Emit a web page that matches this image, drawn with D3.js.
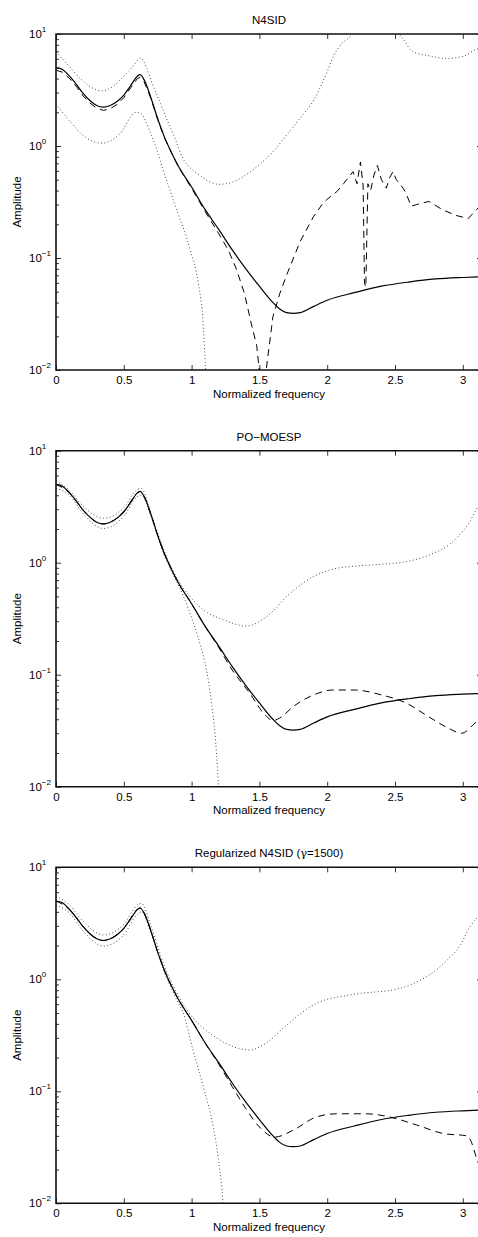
<!DOCTYPE html>
<html>
<head>
<meta charset="utf-8">
<script src="https://cdn.jsdelivr.net/npm/d3@7"></script>
<style>
  body { margin: 0; background: #fff; }
  svg { display: block; font-family: "Liberation Sans", Arial, Helvetica, sans-serif; }
  .tick-label { font-size: 11.5px; fill: #000; }
  .axis-title { font-size: 11.5px; fill: #000; }
</style>
</head>
<body>
<script>
// true system (solid), same in every panel
const trueFreq = [0, 0.05, 0.1, 0.15, 0.2, 0.25, 0.3, 0.35, 0.4, 0.45, 0.5, 0.55, 0.6, 0.62, 0.65, 0.7, 0.75, 0.8, 0.85, 0.9, 1.0, 1.1, 1.2, 1.3, 1.4, 1.5, 1.6, 1.65, 1.7, 1.75, 1.8, 1.9, 2.0, 2.2, 2.4, 2.6, 2.8, 3.0, 3.1416];
const trueAmp = [5.0, 4.8, 4.2, 3.55, 2.95, 2.55, 2.3, 2.22, 2.3, 2.5, 2.85, 3.45, 4.2, 4.33, 3.9, 2.7, 1.75, 1.2, 0.88, 0.67, 0.43, 0.27, 0.18, 0.118, 0.08, 0.056, 0.04, 0.035, 0.0325, 0.032, 0.0325, 0.037, 0.042, 0.049, 0.056, 0.061, 0.065, 0.067, 0.068];

// N4SID estimate (dashed) and bounds (dotted)
const n4sidFreq = [0, 0.05, 0.1, 0.15, 0.2, 0.25, 0.3, 0.35, 0.4, 0.45, 0.5, 0.55, 0.6, 0.62, 0.65, 0.7, 0.75, 0.8, 0.9, 1.0, 1.1, 1.2, 1.27, 1.33, 1.39, 1.44, 1.48, 1.5, 1.52, 1.55, 1.6, 1.65, 1.7, 1.8, 1.9, 1.97, 2.03, 2.07, 2.12, 2.19, 2.22, 2.245, 2.265, 2.275, 2.285, 2.3, 2.32, 2.345, 2.37, 2.4, 2.436, 2.46, 2.485, 2.51, 2.535, 2.56, 2.58, 2.62, 2.66, 2.75, 2.85, 2.95, 3.04, 3.1, 3.1416];
const n4sidAmp = [4.75, 4.55, 4.0, 3.4, 2.8, 2.42, 2.18, 2.08, 2.15, 2.35, 2.7, 3.3, 4.0, 4.1, 3.75, 2.65, 1.72, 1.18, 0.66, 0.42, 0.26, 0.165, 0.118, 0.08, 0.048, 0.026, 0.0165, 0.0098, 0.005, 0.01, 0.03, 0.048, 0.07, 0.14, 0.235, 0.31, 0.36, 0.39, 0.46, 0.59, 0.46, 0.72, 0.44, 0.06, 0.055, 0.46, 0.4, 0.55, 0.67, 0.5, 0.42, 0.52, 0.59, 0.5, 0.46, 0.42, 0.38, 0.29, 0.3, 0.32, 0.27, 0.24, 0.225, 0.27, 0.3];
const n4sidUpFreq = [0, 0.07, 0.17, 0.25, 0.34, 0.42, 0.49, 0.56, 0.626, 0.67, 0.71, 0.77, 0.82, 0.88, 0.93, 1.0, 1.06, 1.13, 1.21, 1.29, 1.36, 1.48, 1.6, 1.7, 1.8, 1.9, 2.0, 2.05, 2.1, 2.17, 2.25, 2.4, 2.5, 2.56, 2.63, 2.75, 2.88, 3.0, 3.1, 3.1416];
const n4sidUpAmp = [6.9, 5.6, 4.1, 3.4, 3.1, 3.4, 4.1, 5.0, 6.1, 4.9, 3.6, 2.4, 1.7, 1.15, 0.8, 0.62, 0.55, 0.48, 0.455, 0.47, 0.515, 0.65, 0.89, 1.25, 1.77, 2.57, 4.6, 6.5, 8.0, 9.5, 12, 15, 11, 9.0, 6.95, 6.4, 6.05, 6.3, 7.3, 7.5];
const n4sidLoFreq = [0, 0.1, 0.22, 0.34, 0.47, 0.59, 0.626, 0.69, 0.74, 0.79, 0.89, 0.99, 1.05, 1.085, 1.1, 1.11];
const n4sidLoAmp = [2.37, 1.68, 1.19, 1.06, 1.28, 2.0, 1.95, 1.37, 0.95, 0.61, 0.27, 0.118, 0.059, 0.026, 0.012, 0.006];

// PO-MOESP
const moespFreq = [0, 0.1, 0.2, 0.3, 0.35, 0.4, 0.5, 0.6, 0.62, 0.65, 0.7, 0.75, 0.8, 0.9, 1.0, 1.1, 1.2, 1.3, 1.43, 1.54, 1.6, 1.65, 1.75, 1.9, 2.04, 2.2, 2.4, 2.58, 2.75, 2.9, 2.99, 3.09, 3.1416];
const moespAmp = [5.0, 4.2, 2.95, 2.3, 2.22, 2.3, 2.85, 4.2, 4.33, 3.9, 2.7, 1.75, 1.2, 0.67, 0.43, 0.27, 0.175, 0.11, 0.068, 0.044, 0.039, 0.041, 0.052, 0.066, 0.073, 0.073, 0.066, 0.056, 0.042, 0.033, 0.030, 0.037, 0.042];
const moespUpFreq = [0, 0.1, 0.2, 0.35, 0.5, 0.6, 0.63, 0.7, 0.8, 0.9, 1.0, 1.086, 1.233, 1.405, 1.553, 1.724, 1.896, 2.068, 2.2, 2.41, 2.6, 2.78, 2.9, 2.98, 3.05, 3.1, 3.1416];
const moespUpAmp = [5.4, 4.4, 3.2, 2.49, 3.1, 4.5, 4.6, 2.75, 1.25, 0.7, 0.48, 0.38, 0.31, 0.272, 0.33, 0.53, 0.75, 0.89, 0.93, 0.97, 1.03, 1.21, 1.45, 1.8, 2.3, 3.0, 3.6];
const moespLoFreq = [0, 0.1, 0.2, 0.35, 0.5, 0.6, 0.63, 0.7, 0.8, 0.84, 0.94, 0.99, 1.061, 1.11, 1.147, 1.172, 1.196, 1.205];
const moespLoAmp = [4.6, 4.0, 2.75, 2.02, 2.6, 3.9, 4.0, 2.6, 1.15, 0.9, 0.5, 0.35, 0.19, 0.11, 0.056, 0.030, 0.0115, 0.007];

// Regularized N4SID
const regFreq = [0, 0.1, 0.2, 0.3, 0.35, 0.4, 0.5, 0.6, 0.62, 0.65, 0.7, 0.75, 0.8, 0.9, 1.0, 1.1, 1.2, 1.3, 1.4, 1.5, 1.614, 1.75, 1.92, 2.07, 2.29, 2.46, 2.66, 2.855, 3.03, 3.06, 3.09, 3.11, 3.1416];
const regAmp = [5.0, 4.2, 2.95, 2.3, 2.22, 2.3, 2.85, 4.2, 4.33, 3.9, 2.7, 1.75, 1.2, 0.67, 0.43, 0.27, 0.175, 0.11, 0.07, 0.048, 0.039, 0.045, 0.059, 0.063, 0.063, 0.059, 0.050, 0.042, 0.040, 0.036, 0.028, 0.0235, 0.02];
const regUpFreq = [0, 0.1, 0.2, 0.35, 0.5, 0.6, 0.63, 0.7, 0.8, 0.9, 0.938, 1.0, 1.184, 1.43, 1.55, 1.675, 1.8, 1.921, 2.167, 2.535, 2.7, 2.8, 2.9, 2.98, 3.05, 3.11, 3.1416];
const regUpAmp = [5.5, 4.6, 3.3, 2.49, 3.1, 4.6, 4.77, 3.0, 1.3, 0.72, 0.6, 0.47, 0.30, 0.234, 0.27, 0.365, 0.49, 0.61, 0.725, 0.83, 1.0, 1.2, 1.55, 2.0, 2.9, 3.6, 4.0];
const regLoFreq = [0, 0.1, 0.2, 0.35, 0.5, 0.6, 0.63, 0.7, 0.8, 0.9, 0.938, 1.01, 1.086, 1.16, 1.196, 1.228, 1.24];
const regLoAmp = [4.6, 3.9, 2.7, 1.98, 2.5, 3.8, 4.0, 2.6, 1.15, 0.62, 0.5, 0.234, 0.11, 0.048, 0.026, 0.0115, 0.007];

const xTicks = [0, 0.5, 1, 1.5, 2, 2.5, 3];
const yMajor = [0.01, 0.1, 1, 10];
const yExponents = ["\u22122", "\u22121", "0", "1"];

const panels = [
  { title: "N4SID", top: 34, est: [n4sidFreq, n4sidAmp], up: [n4sidUpFreq, n4sidUpAmp], lo: [n4sidLoFreq, n4sidLoAmp] },
  { title: "PO\u2212MOESP", top: 450.7, est: [moespFreq, moespAmp], up: [moespUpFreq, moespUpAmp], lo: [moespLoFreq, moespLoAmp] },
  { title: "reg", top: 867.3, est: [regFreq, regAmp], up: [regUpFreq, regUpAmp], lo: [regLoFreq, regLoAmp] }
];

const width = 478, height = 1237;
const left = 56, right = 482, plotH = 336;

const svg = d3.select("body").append("svg")
  .attr("width", width)
  .attr("height", height);

const x = d3.scaleLinear().domain([0, Math.PI]).range([left, right]);

const zip = (f, a) => f.map((v, i) => [v, a[i]]);

const yMinor = [];
[0.01, 0.1, 1].forEach((d) => {
  for (let k = 2; k <= 9; k++) yMinor.push(d * k);
});

panels.forEach((p, idx) => {
  const bottom = p.top + plotH;
  const y = d3.scaleLog().domain([0.01, 10]).range([bottom, p.top]);
  const g = svg.append("g");

  const clipId = `clip-${idx}`;
  svg.append("clipPath").attr("id", clipId)
    .append("rect")
      .attr("x", left)
      .attr("y", p.top)
      .attr("width", right - left)
      .attr("height", plotH);

  const line = d3.line()
    .x((d) => x(d[0]))
    .y((d) => y(Math.max(d[1], 1e-4)))
    .curve(d3.curveMonotoneX);

  const curves = g.append("g").attr("clip-path", `url(#${clipId})`);

  // bounds
  [p.up, p.lo].forEach((c) => {
    curves.append("path")
      .datum(zip(c[0], c[1]))
      .attr("d", line)
      .attr("fill", "none")
      .attr("stroke", "#222")
      .attr("stroke-width", 0.9)
      .attr("stroke-dasharray", "0.9,2.5");
  });

  // estimate
  curves.append("path")
    .datum(zip(p.est[0], p.est[1]))
    .attr("d", idx === 0 ? line.curve(d3.curveLinear) : line)
    .attr("fill", "none")
    .attr("stroke", "#000")
    .attr("stroke-width", 1)
    .attr("stroke-dasharray", "7,5");
  line.curve(d3.curveMonotoneX);

  // true system
  curves.append("path")
    .datum(zip(trueFreq, trueAmp))
    .attr("d", line)
    .attr("fill", "none")
    .attr("stroke", "#000")
    .attr("stroke-width", 1.2);

  // x axis, bottom + top, ticks inward
  const xAxisB = g.append("g")
    .attr("transform", `translate(0,${bottom})`)
    .call(d3.axisBottom(x).tickValues(xTicks).tickSize(-5).tickPadding(6).tickFormat((d) => d));
  const xAxisT = g.append("g")
    .attr("transform", `translate(0,${p.top})`)
    .call(d3.axisTop(x).tickValues(xTicks).tickSize(-5).tickFormat(""));

  // y axis, left + right
  const yAxisL = g.append("g")
    .attr("transform", `translate(${left},0)`)
    .call(d3.axisLeft(y).tickValues(yMajor).tickSize(-5).tickFormat(""));
  const yAxisLm = g.append("g")
    .attr("transform", `translate(${left},0)`)
    .call(d3.axisLeft(y).tickValues(yMinor).tickSize(-3).tickFormat(""));
  const yAxisR = g.append("g")
    .attr("transform", `translate(${right},0)`)
    .call(d3.axisRight(y).tickValues(yMajor).tickSize(-5).tickFormat(""));

  [xAxisB, xAxisT, yAxisL, yAxisLm, yAxisR].forEach((a) => {
    a.select(".domain").remove();
    a.selectAll("line").attr("stroke", "#000").attr("stroke-width", 0.8);
  });
  xAxisB.selectAll("text")
    .attr("class", "tick-label")
    .attr("font-size", null)
    .attr("font-family", null);

  // y labels as 10 with superscript
  yMajor.forEach((v, i) => {
    const t = g.append("text")
      .attr("class", "tick-label")
      .attr("x", 29)
      .attr("y", y(v) + 4);
    t.append("tspan").text("10");
    t.append("tspan")
      .attr("dy", -6)
      .attr("font-size", "8px")
      .text(yExponents[i]);
  });

  // box
  g.append("path")
    .attr("d", `M${right},${p.top}H${left}V${bottom}H${right}`)
    .attr("fill", "none")
    .attr("stroke", "#111")
    .attr("stroke-width", 1.6);

  // titles
  const title = g.append("text")
    .attr("class", "axis-title")
    .attr("x", (left + right) / 2)
    .attr("y", p.top - 10)
    .attr("text-anchor", "middle");
  if (p.title === "reg") {
    title.append("tspan").text("Regularized N4SID (");
    title.append("tspan").attr("font-family", "'DejaVu Serif', serif").text("\u03b3");
    title.append("tspan").text("=1500)");
  } else {
    title.text(p.title);
  }

  g.append("text")
    .attr("class", "axis-title")
    .attr("x", (left + right) / 2)
    .attr("y", bottom + 27.5)
    .attr("text-anchor", "middle")
    .text("Normalized frequency");

  g.append("text")
    .attr("class", "axis-title")
    .attr("transform", `translate(21,${(p.top + bottom) / 2}) rotate(-90)`)
    .attr("text-anchor", "middle")
    .text("Amplitude");
});
</script>
</body>
</html>
